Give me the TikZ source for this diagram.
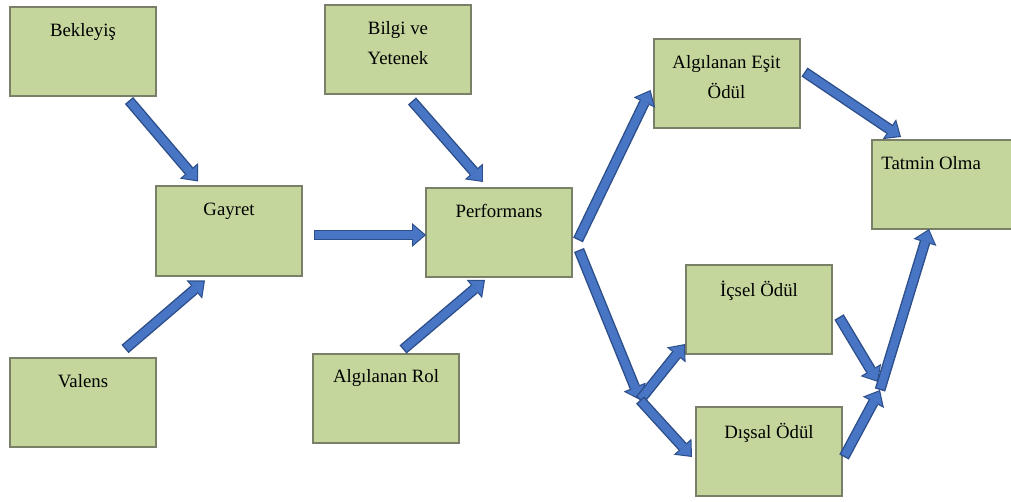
\documentclass[tikz,border=0pt]{standalone}
\usepackage{fontspec}
\setmainfont{Liberation Serif}
\usetikzlibrary{calc,arrows.meta}

\definecolor{boxfill}{RGB}{196,214,156}
\definecolor{boxedge}{RGB}{122,128,104}
\definecolor{arrowfill}{RGB}{72,118,196}
\definecolor{arrowedge}{RGB}{44,78,138}

\tikzset{
  box/.style={draw=boxedge, line width=1pt, fill=boxfill, minimum width=73pt, minimum height=44.5pt, inner sep=0pt},
  txt/.style={anchor=north, yshift=-8.5pt, inner sep=0pt, align=center, font=\fontsize{9.4}{15}\selectfont},
  flow/.style={preaction={draw=arrowedge, line width=5.4pt, shorten >=0pt, shorten <=0pt, -{Triangle[width=12pt,length=7pt,line width=0pt]}},
    draw=arrowfill, line width=4pt, shorten >=0.9pt, shorten <=0.7pt, -{Triangle[width=9.6pt,length=5.5pt,line width=0pt]}}
}

\begin{document}
\begin{tikzpicture}[x=0.5pt, y=-0.5pt]
\useasboundingbox (0,0) rectangle (1011,502);
\clip (0,0) rectangle (1011,502);
% boxes
\node[box, label={[txt]north:Bekleyiş}] (bek) at (83,52) {};
\node[box, label={[txt]north:Valens}] (val) at (83,402.5) {};
\node[box, label={[txt]north:Gayret}] (gay) at (229,231) {};
\node[box, label={[txt]north:Bilgi ve\\Yetenek}] (bilgi) at (398,49.5) {};
\node[box, label={[txt]north:Algılanan Rol}] (rol) at (386,398) {};
\node[box, label={[txt]north:Performans}] (perf) at (499,232.5) {};
\node[box, label={[txt]north:Algılanan Eşit\\Ödül}] (esit) at (726.5,83.5) {};
\node[box, label={[txt]north:İçsel Ödül}] (icsel) at (759,309.5) {};
\node[box, label={[txt]north:Dışsal Ödül}] (dissal) at (769,451.5) {};
\node[box, label={[txt, anchor=north west, xshift=5pt]north west:Tatmin Olma}] (tatmin) at (945,184.5) {};
\coordinate (j1) at (640,400); % split
\coordinate (j2) at (880,390); % merge
% arrows
\draw[flow] ($(bek.south)+(46,3)$) -- ($(gay.north)+(-31,-4)$);
\draw[flow] ($(val.north)+(42,-8)$) -- ($(gay.south)+(-24,4)$);
\draw[flow] ($(gay.east)+(11,4)$) -- ($(perf.west)+(1,2.5)$);
\draw[flow] ($(bilgi.south)+(14,6)$) -- ($(perf.north)+(-16,-5)$);
\draw[flow] ($(rol.north)+(17,-3)$) -- ($(perf.south)+(-14,2)$);
\draw[flow] ($(perf.east)+(5,7.5)$) -- ($(esit.west)+(-2,6.5)$);
\draw[flow] ($(perf.east)+(6,17.5)$) -- (j1);
\draw[flow] (j1) -- ($(icsel.south west)+(0,-11)$);
\draw[flow] (j1) -- ($(dissal.west)+(-3,5.5)$);
\draw[flow] ($(esit.east)+(4,-11.5)$) -- ($(tatmin.north west)+(30,-2)$);
\draw[flow] ($(icsel.east)+(6,7.5)$) -- ($(j2)+(-2,-8)$);
\draw[flow] ($(dissal.east)+(1,5.5)$) -- (j2);
\draw[flow] (j2) -- ($(tatmin.south west)+(58,-1)$);
\end{tikzpicture}
\end{document}
